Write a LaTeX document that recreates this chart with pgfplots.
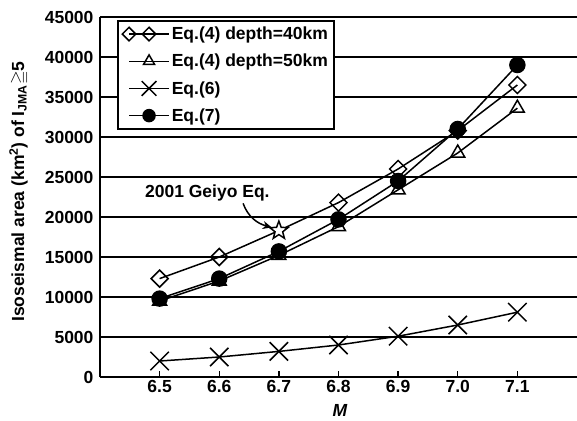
\documentclass[border=0pt]{standalone}
\usepackage{fontspec}
\setmainfont{Liberation Sans}
\usepackage{amssymb}
\usepackage{pgfplots}
\pgfplotsset{compat=1.18}
\usetikzlibrary{arrows.meta}
\pgfdeclareplotmark{ostar}{%
  \pgfpathmoveto{\pgfqpointpolar{90}{\pgfplotmarksize}}%
  \pgfpathlineto{\pgfqpointpolar{126}{0.42\pgfplotmarksize}}%
  \pgfpathlineto{\pgfqpointpolar{162}{\pgfplotmarksize}}%
  \pgfpathlineto{\pgfqpointpolar{198}{0.42\pgfplotmarksize}}%
  \pgfpathlineto{\pgfqpointpolar{234}{\pgfplotmarksize}}%
  \pgfpathlineto{\pgfqpointpolar{270}{0.42\pgfplotmarksize}}%
  \pgfpathlineto{\pgfqpointpolar{306}{\pgfplotmarksize}}%
  \pgfpathlineto{\pgfqpointpolar{342}{0.42\pgfplotmarksize}}%
  \pgfpathlineto{\pgfqpointpolar{18}{\pgfplotmarksize}}%
  \pgfpathlineto{\pgfqpointpolar{54}{0.42\pgfplotmarksize}}%
  \pgfpathclose
  \pgfusepathqfillstroke
}
\begin{document}
\begin{tikzpicture}
\begin{axis}[
  scale only axis, width=477pt, height=360pt,
  xmin=6.4, xmax=7.2, ymin=0, ymax=45000,
  axis lines=left,
  x axis line style={-, line width=2pt},
  y axis line style={-, line width=1.5pt},
  xtick={6.5,6.6,6.7,6.8,6.9,7.0,7.1},
  xticklabels={6.5,6.6,6.7,6.8,6.9,7.0,7.1},
  xtick align=inside,
  xtick style={black, line width=1.3pt},
  major tick length=6pt,
  ytick={0,5000,10000,15000,20000,25000,30000,35000,40000,45000},
  ytick style={draw=none},
  scaled y ticks=false,
  ymajorgrids,
  grid style={black, line width=1.5pt},
  ticklabel style={font=\fontsize{17.5}{17.5}\selectfont\bfseries},
  /pgf/number format/1000 sep={},
  /pgf/number format/assume math mode=true,
  xlabel={\bfseries\itshape M},
  xlabel style={font=\fontsize{17.5}{17.5}\selectfont, at={(axis description cs:0.503,-0.092)}, anchor=center},
  ylabel={Isoseismal area (km\textsuperscript{2}) of I\textsubscript{JMA}$\geqq$5},
  ylabel style={font=\fontsize{17.5}{17.5}\selectfont\bfseries, at={(axis description cs:-0.17,0.515)}, anchor=center},
  legend style={at={(rel axis cs:0.036,0.992)}, anchor=north west, draw=black, line width=2.2pt,
    font=\fontsize{17.5}{20}\selectfont\bfseries, row sep=9pt, inner sep=4pt},
  legend cell align=left,
  legend image code/.code={\draw[mark repeat=2,mark phase=2, every mark/.append style={scale=0.8}] plot coordinates {(0pt,0pt)(20pt,0pt)(40pt,0pt)};},
  clip=false,
]
\addplot[black, line width=1.5pt, mark=square, mark size=6pt,
  mark options={rotate=45, fill=white, solid, line width=1.5pt}, mark indices={1,2,4,5,6,7}]
  coordinates {(6.5,12300)(6.6,15000)(6.7,18300)(6.8,21800)(6.9,26000)(7.0,30800)(7.1,36500)};
\addlegendentry{Eq.(4) depth=40km}
\addplot[black, line width=1.5pt, mark=triangle, mark size=8pt,
  mark options={fill=white, solid, line width=1.5pt}]
  coordinates {(6.5,9500)(6.6,12000)(6.7,15200)(6.8,18800)(6.9,23400)(7.0,28000)(7.1,33600)};
\addlegendentry{Eq.(4) depth=50km}
\addplot[black, line width=1.5pt, mark=x, mark size=13pt,
  mark options={solid, line width=1.5pt}]
  coordinates {(6.5,2000)(6.6,2500)(6.7,3200)(6.8,4000)(6.9,5100)(7.0,6500)(7.1,8100)};
\addlegendentry{Eq.(6)}
\addplot[black, line width=1.5pt, mark=*, mark size=7.5pt,
  mark options={fill=black, solid}]
  coordinates {(6.5,9800)(6.6,12300)(6.7,15700)(6.8,19700)(6.9,24500)(7.0,31000)(7.1,39000)};
\addlegendentry{Eq.(7)}
\addplot[black, only marks, mark=ostar, mark size=9.5pt,
  mark options={fill=white, line width=1.5pt}, forget plot]
  coordinates {(6.7,18300)};
\node[font=\fontsize{17.5}{17.5}\selectfont\bfseries] at (axis cs:6.58,23000) {2001 Geiyo Eq.};
\draw[-{Stealth[length=9pt,width=8pt]}, line width=1.5pt] (axis cs:6.64,21700) to[out=-70, in=165] (axis cs:6.688,18700);
\end{axis}
\pgfresetboundingbox
\path (-100pt,-43pt) rectangle (477pt,377pt);
\end{tikzpicture}
\end{document}
